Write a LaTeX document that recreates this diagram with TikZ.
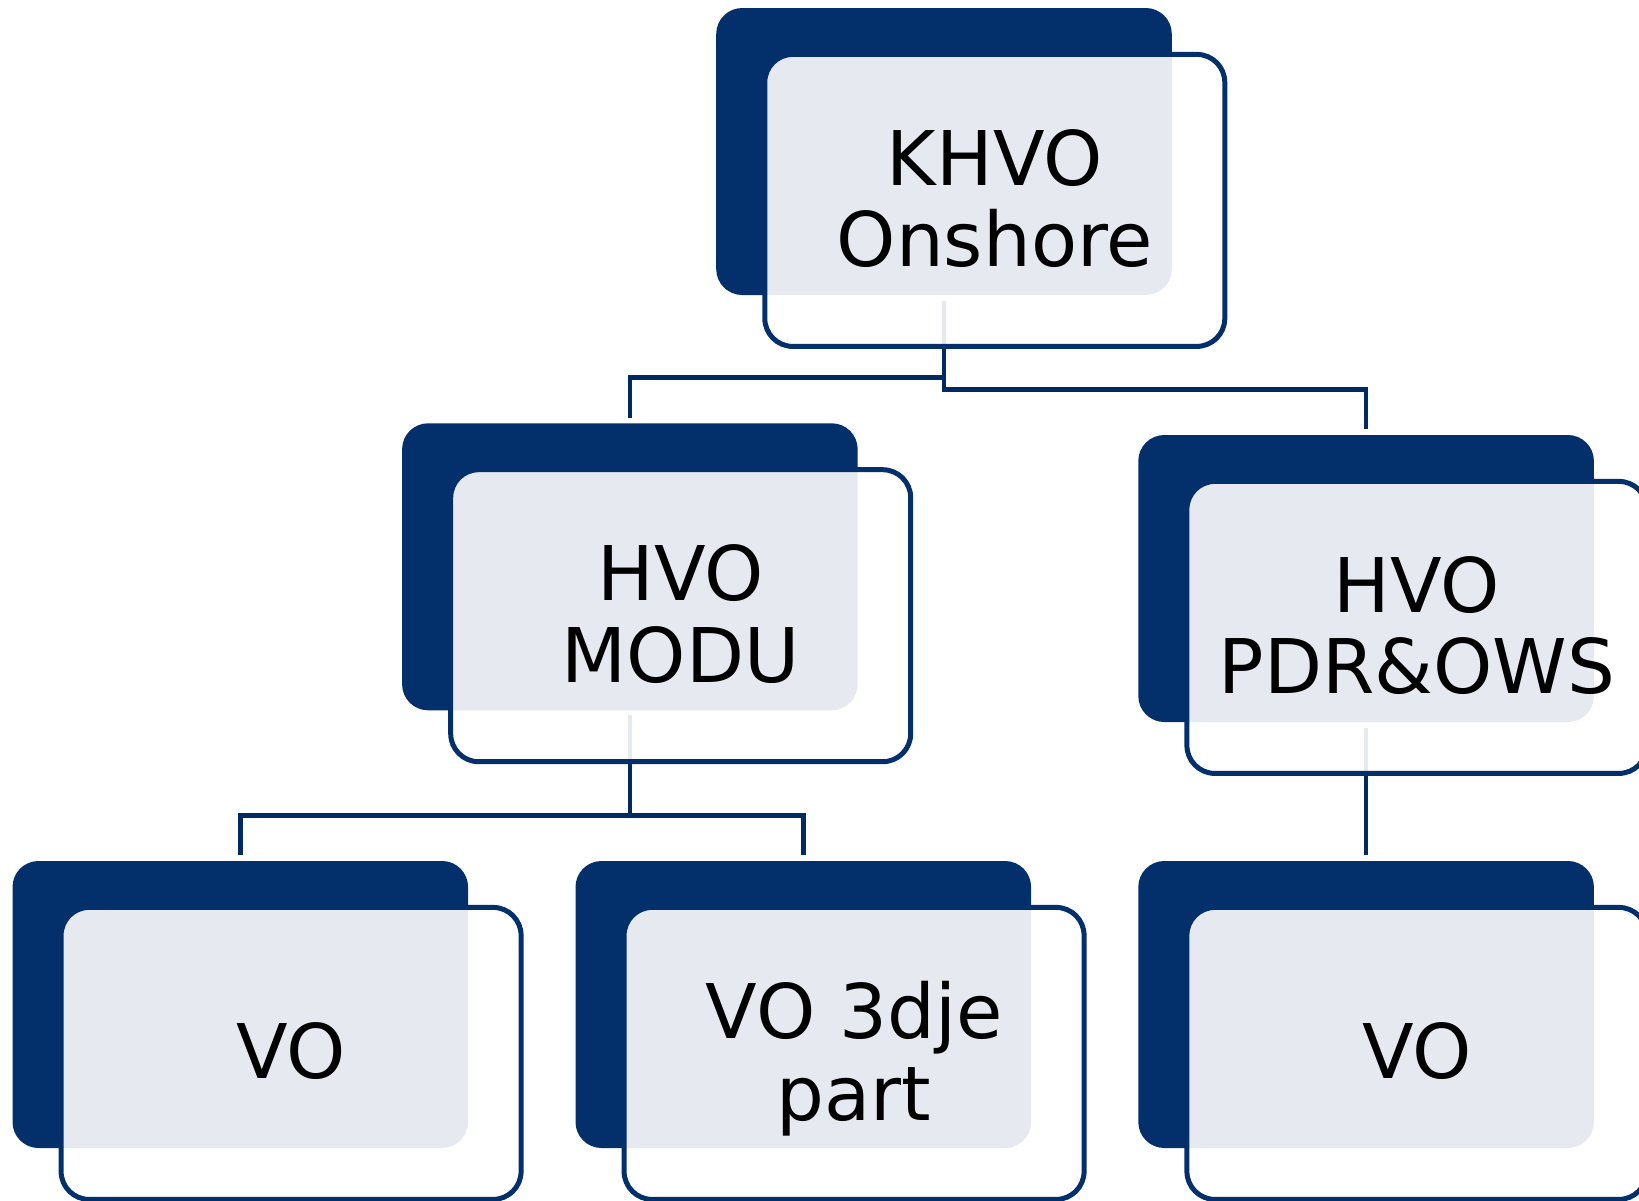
\documentclass[tikz,border=0pt]{standalone}
\usepackage{fontspec}
\setmainfont{DejaVu Sans}
\usetikzlibrary{calc}
\definecolor{navy}{HTML}{03306B}
\definecolor{linkcol}{HTML}{022A62}
\begin{document}
\begin{tikzpicture}[x=1pt,y=-1pt,
  back/.style={fill=navy, draw=none, rounded corners=26pt, minimum width=455.6pt, minimum height=287pt, inner sep=0pt, outer sep=0pt},
  front/.style={fill=white, fill opacity=0.9, text opacity=1, draw=navy, draw opacity=1, line width=5pt, rounded corners=28pt, minimum width=460pt, minimum height=292pt, inner sep=0pt, align=center, font=\fontsize{75.4}{81.7}\selectfont, text depth=5pt},
  link/.style={draw=linkcol, line width=4.5pt}
]
\useasboundingbox (0,0) rectangle (1639,1200);
\clip (0,0) rectangle (1639,1200);
% back boxes
\node[back] (A) at (944,151.5) {};
\node[back] (B) at (629.9,566.8) {};
\node[back] (C) at (1366.1,578.5) {};
\node[back] (D) at (240.3,1004.5) {};
\node[back] (E) at (803.3,1004.5) {};
\node[back] (F) at (1366.1,1004.5) {};
% connectors
\coordinate (ab) at ($(A.south)+(0,82.7)$);
\coordinate (ac) at ($(A.south)+(0,94.3)$);
\coordinate (bd) at ($(B.south)+(0,105)$);
\draw[link] ([yshift=-6pt]A.south) -- (ab) -| ([yshift=5pt]B.north);
\draw[link] ([yshift=-6pt]A.south) -- (ac) -| ([yshift=6.4pt]C.north);
\draw[link] ([yshift=-5pt]B.south) -- (bd) -| ([yshift=6pt]D.north);
\draw[link] ([yshift=-5pt]B.south) -- (bd) -| ([yshift=6pt]E.north);
\draw[link] ([yshift=-6pt]C.south) -- ([yshift=6pt]F.north);
% front boxes with text
\node[front] (Af) at ($(A)+(50.8,48.9)$) {KHVO\\Onshore};
\node[front] (Bf) at ($(B)+(50.8,48.9)$) {HVO\\MODU};
\node[front] (Cf) at ($(C)+(50.8,48.9)$) {HVO\\PDR\&OWS};
\node[front] (Df) at ($(D)+(50.8,48.9)$) {VO};
\node[front] (Ef) at ($(E)+(50.8,48.9)$) {VO 3dje\\part};
\node[front] (Ff) at ($(F)+(50.8,48.9)$) {VO};
\end{tikzpicture}
\end{document}
